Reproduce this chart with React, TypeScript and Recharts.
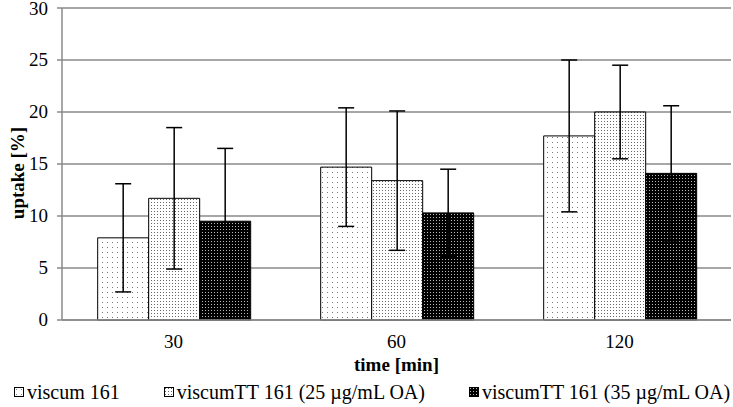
import React from "react";
import { BarChart, Bar, XAxis, YAxis, CartesianGrid, ErrorBar, Legend } from "recharts";

const categories = ["30", "60", "120"];
const viscum = [7.9, 14.7, 17.7];
const viscumErr = [5.2, 5.7, 7.3];
const tt25 = [11.7, 13.4, 20.0];
const tt25Err = [6.8, 6.7, 4.5];
const tt35 = [9.5, 10.3, 14.1];
const tt35Err = [7.0, 4.2, 6.5];
const yTicks = [0, 5, 10, 15, 20, 25, 30];
const edgeTicks = [0, 1, 2, 3];

const seriesNames = ["viscum 161", "viscumTT 161 (25 µg/mL OA)", "viscumTT 161 (35 µg/mL OA)"];
const fills = ["url(#dotsSparse)", "url(#dotsDense)", "url(#dotsDark)"];

const data = categories.map((time, i) => ({
  time,
  a: viscum[i],
  aErr: viscumErr[i],
  b: tt25[i],
  bErr: tt25Err[i],
  c: tt35[i],
  cErr: tt35Err[i],
}));

const FONT = "Liberation Serif";
const GRID = "#8a8a8a";

function Patterns() {
  return (
    <svg width={0} height={0} style={{ position: "absolute" }}>
      <defs>
        <pattern id="dotsSparse" width={5} height={5} patternUnits="userSpaceOnUse">
          <rect width={5} height={5} fill="#fff" />
          <rect x={2} y={2} width={1} height={1} fill="#777" />
        </pattern>
        <pattern id="dotsDense" width={3} height={3} patternUnits="userSpaceOnUse">
          <rect width={3} height={3} fill="#fff" />
          <rect x={1} y={1} width={1} height={1} fill="#666" />
        </pattern>
        <pattern id="dotsDark" width={3} height={3} patternUnits="userSpaceOnUse">
          <rect width={3} height={3} fill="#000" />
          <rect x={1} y={1} width={1} height={1} fill="#bbb" />
        </pattern>
      </defs>
    </svg>
  );
}

function XTick({ x, y, payload }: any) {
  return (
    <text x={x} y={y + 14} textAnchor="middle" fontFamily={FONT} fontSize={19} fill="#000">
      {payload.value}
    </text>
  );
}

function YTick({ x, y, payload }: any) {
  return (
    <text x={x} y={y + 6} textAnchor="end" fontFamily={FONT} fontSize={19} fill="#000">
      {payload.value}
    </text>
  );
}

function LegendRow() {
  return (
    <div
      style={{
        display: "flex",
        gap: 44,
        paddingLeft: 14,
        fontFamily: FONT,
        fontSize: 20,
        lineHeight: "24px",
        color: "#000",
        whiteSpace: "nowrap",
        width: 733,
        boxSizing: "border-box",
      }}
    >
      {seriesNames.map((name, i) => (
        <div key={name} style={{ display: "flex", alignItems: "center", flexShrink: 0 }}>
          <svg width={11} height={11} style={{ marginRight: 2 }}>
            <rect x={0.5} y={0.5} width={9} height={9} fill={fills[i]} stroke="#000" strokeWidth={1} />
          </svg>
          <span>{name}</span>
        </div>
      ))}
    </div>
  );
}

export default function App() {
  return (
    <div style={{ position: "absolute", left: 0, top: 0, width: 733, height: 407, background: "#fff" }}>
      <Patterns />
      <BarChart
        width={733}
        height={407}
        data={data}
        margin={{ top: 8, right: 2, left: 12, bottom: 0 }}
        barGap={0}
        barCategoryGap="16%"
        style={{ fontFamily: FONT }}
      >
        <CartesianGrid xAxisId="cat" horizontal vertical={false} stroke={GRID} strokeWidth={1.5} />
        <XAxis
          xAxisId="edge"
          type="number"
          domain={[0, 3]}
          ticks={edgeTicks}
          tick={false}
          axisLine={false}
          tickLine={{ stroke: GRID, strokeWidth: 1.5 }}
          tickSize={5}
          height={0}
        />
        <XAxis
          xAxisId="cat"
          dataKey="time"
          tickLine={false}
          tickSize={0}
          tickMargin={14}
          axisLine={{ stroke: GRID, strokeWidth: 1.5 }}
          tick={<XTick />}
          height={56}
          label={{
            content: ({ viewBox }: any) => (
              <text
                x={viewBox.x + viewBox.width / 2}
                y={viewBox.y + 51}
                textAnchor="middle"
                fontFamily={FONT}
                fontSize={19}
                fontWeight="bold"
                fill="#000"
              >
                time [min]
              </text>
            ),
          }}
        />
        <YAxis
          domain={[0, 30]}
          ticks={yTicks}
          width={50}
          tickSize={5}
          tickMargin={9}
          axisLine={{ stroke: GRID, strokeWidth: 1.5 }}
          tickLine={{ stroke: GRID, strokeWidth: 1.5 }}
          tick={<YTick />}
          label={{
            content: ({ viewBox }: any) => {
              const x = viewBox.x + 12;
              const y = viewBox.y + viewBox.height / 2 + 9;
              return (
                <text
                  x={x}
                  y={y}
                  transform={`rotate(-90 ${x} ${y})`}
                  textAnchor="middle"
                  fontFamily={FONT}
                  fontSize={19}
                  fontWeight="bold"
                  fill="#000"
                >
                  uptake [%]
                </text>
              );
            },
          }}
        />
        <Legend
          verticalAlign="bottom"
          align="left"
          height={31}
          content={() => <LegendRow />}
          wrapperStyle={{ left: 0, bottom: -4, width: 733 }}
        />
        <Bar xAxisId="cat" dataKey="a" name={seriesNames[0]} fill={fills[0]} stroke="#000" strokeWidth={1} isAnimationActive={false}>
          <ErrorBar dataKey="aErr" width={8} stroke="#000" strokeWidth={1.5} />
        </Bar>
        <Bar xAxisId="cat" dataKey="b" name={seriesNames[1]} fill={fills[1]} stroke="#000" strokeWidth={1} isAnimationActive={false}>
          <ErrorBar dataKey="bErr" width={8} stroke="#000" strokeWidth={1.5} />
        </Bar>
        <Bar xAxisId="cat" dataKey="c" name={seriesNames[2]} fill={fills[2]} stroke="#000" strokeWidth={1} isAnimationActive={false}>
          <ErrorBar dataKey="cErr" width={8} stroke="#000" strokeWidth={1.5} />
        </Bar>
      </BarChart>
    </div>
  );
}
